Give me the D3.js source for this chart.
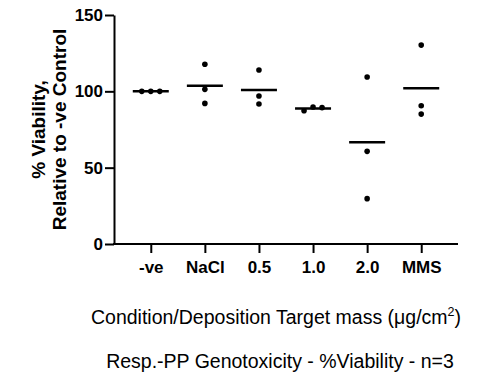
<!DOCTYPE html>
<html>
<head>
<meta charset="utf-8">
<script src="https://cdn.jsdelivr.net/npm/d3@7"></script>
<style>
  body { margin: 0; background: #fff; }
  svg { display: block; font-family: "Liberation Sans", Arial, sans-serif; }
  .axis path, .axis line { stroke: #000; stroke-width: 2; }
  .axis text { fill: #000; font-weight: bold; font-size: 17px; }
  .ylab { font-weight: bold; font-size: 19px; }
  .xlab { font-size: 19.5px; }
</style>
</head>
<body>
<svg id="chart" width="482" height="375"></svg>
<script>
// data
const categories = ['-ve', 'NaCl', '0.5', '1.0', '2.0', 'MMS'];
const replicates = [
  [100, 100, 100],
  [117.7, 101.3, 92.1],
  [114.0, 96.9, 91.7],
  [87.3, 89.7, 89.3],
  [109.4, 60.7, 29.7],
  [130.3, 90.6, 85.1]
];
const yTicks = [0, 50, 100, 150];

const svg = d3.select('#chart');

const x0 = 114, x1 = 458, yTop = 15, yBot = 244;

const x = d3.scalePoint().domain(categories).range([x0, x1]).padding(0.68);
const y = d3.scaleLinear().domain([0, 150]).range([yBot, yTop]);

// axes
svg.append('g')
  .attr('class', 'axis')
  .attr('transform', `translate(${x0},0)`)
  .call(d3.axisLeft(y).tickValues(yTicks).tickSize(9).tickSizeOuter(0).tickPadding(2))
  .call(g => g.selectAll('text').style('font-size', '17px'));

svg.append('g')
  .attr('class', 'axis')
  .attr('transform', `translate(0,${yBot})`)
  .call(d3.axisBottom(x).tickSize(9).tickSizeOuter(0).tickPadding(8))
  .call(g => g.select('.domain').attr('d', `M${x0 - 1},0H${x1}`));

// points, spread sideways when they overlap (like prism scatter)
const r = 2.8, gap = 9;
replicates.forEach((vals, gi) => {
  const pts = vals.map(v => ({ v, py: y(v) }));
  // cluster points that are close in y
  const clusters = [];
  pts.forEach(p => {
    const c = clusters.find(cl => cl.some(q => Math.abs(q.py - p.py) < 2 * r + 1));
    if (c) c.push(p); else clusters.push([p]);
  });
  clusters.forEach(cl => {
    cl.forEach((p, i) => { p.px = x(categories[gi]) + (i - (cl.length - 1) / 2) * gap; });
  });

  const mean = d3.mean(vals);
  svg.append('line')
    .attr('x1', x(categories[gi]) - 18)
    .attr('x2', x(categories[gi]) + 18)
    .attr('y1', y(mean)).attr('y2', y(mean))
    .attr('stroke', '#000').attr('stroke-width', 2.5);

  svg.selectAll(null)
    .data(pts)
    .enter()
    .append('circle')
    .attr('cx', d => d.px)
    .attr('cy', d => d.py)
    .attr('r', r)
    .attr('fill', '#000');
});

// y label, two lines
const ymid = (yTop + yBot) / 2;
svg.append('text')
  .attr('class', 'ylab')
  .attr('transform', `translate(45,${ymid}) rotate(-90)`)
  .attr('text-anchor', 'middle')
  .text('% Viability,');
svg.append('text')
  .attr('class', 'ylab')
  .attr('transform', `translate(66,${ymid}) rotate(-90)`)
  .attr('text-anchor', 'middle')
  .text('Relative to -ve Control');

// x title
const xt = svg.append('text')
  .attr('class', 'xlab')
  .attr('x', 276).attr('y', 324)
  .attr('text-anchor', 'middle');
xt.append('tspan').text('Condition/Deposition Target mass (μg/cm');
xt.append('tspan').attr('dy', -8).style('font-size', '12.5px').text('2');
xt.append('tspan').attr('dy', 8).text(')');

svg.append('text')
  .attr('class', 'xlab')
  .attr('x', 280).attr('y', 368)
  .attr('text-anchor', 'middle')
  .text('Resp.-PP Genotoxicity - %Viability - n=3');
</script>
</body>
</html>
